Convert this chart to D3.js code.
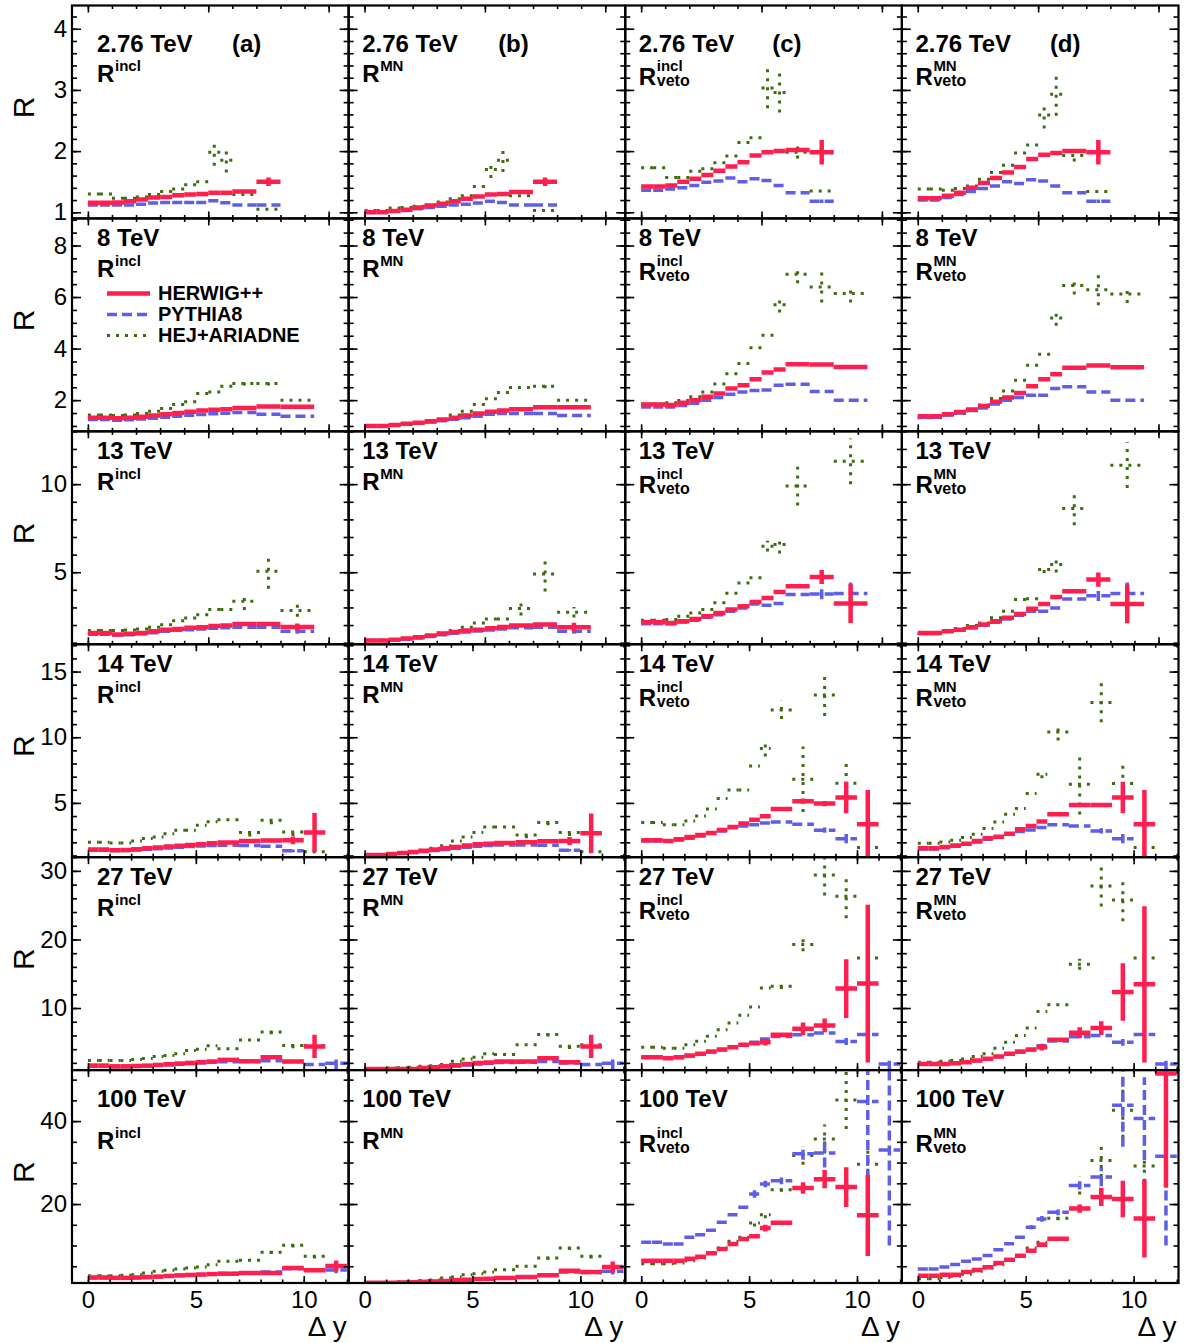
<!DOCTYPE html>
<html>
<head>
<meta charset="utf-8">
<script src="https://cdn.jsdelivr.net/npm/d3@7"></script>
<style>
  body { margin: 0; background: #fff; }
</style>
</head>
<body>
<div id="chart"></div>
<script>
// ---------------- data ----------------
const energyLabels = ["2.76 TeV", "8 TeV", "13 TeV", "14 TeV", "27 TeV", "100 TeV"];
const panelTags = ["(a)", "(b)", "(c)", "(d)"];
const ratioSup = ["incl", "MN", "incl", "MN"];
const ratioVeto = [false, false, true, true];
const seriesNames = ["HERWIG++", "PYTHIA8", "HEJ+ARIADNE"];

// bin edges in delta y
const edges276 = [0, 0.5, 1, 1.5, 2, 2.5, 3, 3.5, 4, 4.5, 5, 5.5, 6, 7, 8];
const edges94 = [0, 0.5, 1, 1.5, 2, 2.5, 3, 3.5, 4, 4.5, 5, 5.5, 6, 7, 8, 9.4];
const edges12 = [0, 0.5, 1, 1.5, 2, 2.5, 3, 3.5, 4, 4.5, 5, 5.5, 6, 7, 8, 9, 10, 11, 12];

// axis setup per row
const xRanges = [[-0.66, 10.83], [-0.66, 10.83], [-0.66, 10.83], [-0.74, 12.08], [-0.74, 12.08], [-0.74, 12.08]];
const xMajorTicks = [0, 5, 10];
const xMinorTicks = [0, 1, 2, 3, 4, 5, 6, 7, 8, 9, 10, 11, 12];
const yRanges = [[0.9, 4.38], [0.79, 9.05], [0.91, 13.0], [0.87, 17.08], [0.95, 32.0], [0.96, 52.3]];
const yMajorTicks = [[1, 2, 3, 4], [2, 4, 6, 8], [5, 10], [5, 10, 15], [10, 20, 30], [20, 40]];
const yMinorSteps = [0.2, 0.5, 1, 1, 2, 5];

// HERWIG++ (panels a, b, c, d)
const herwig276 = [
  [1.155, 1.155, 1.16, 1.18, 1.21, 1.24, 1.25, 1.28, 1.29, 1.30, 1.32, 1.32, 1.34, 1.50],
  [1.0, 1.0, 1.02, 1.04, 1.08, 1.11, 1.14, 1.18, 1.22, 1.26, 1.29, 1.30, 1.33, 1.50],
  [1.42, 1.42, 1.44, 1.50, 1.55, 1.61, 1.68, 1.75, 1.82, 1.93, 1.98, 2.0, 2.02, 1.98],
  [1.23, 1.23, 1.27, 1.32, 1.40, 1.48, 1.56, 1.65, 1.74, 1.87, 1.94, 1.97, 2.0, 1.98]
];
const herwig8 = [
  [1.32, 1.32, 1.30, 1.32, 1.36, 1.40, 1.45, 1.50, 1.55, 1.60, 1.63, 1.65, 1.70, 1.75, 1.74],
  [1.0, 1.0, 1.04, 1.08, 1.12, 1.18, 1.25, 1.32, 1.40, 1.48, 1.55, 1.60, 1.65, 1.72, 1.72],
  [1.83, 1.83, 1.81, 1.90, 2.0, 2.13, 2.26, 2.45, 2.58, 2.81, 3.07, 3.19, 3.39, 3.38, 3.29],
  [1.38, 1.38, 1.45, 1.54, 1.64, 1.77, 1.94, 2.10, 2.28, 2.54, 2.81, 3.0, 3.26, 3.34, 3.28]
];
const herwig13 = [
  [1.55, 1.55, 1.46, 1.50, 1.55, 1.65, 1.74, 1.78, 1.84, 1.87, 1.95, 1.97, 2.06, 2.06, 1.89],
  [1.12, 1.12, 1.17, 1.23, 1.31, 1.40, 1.52, 1.61, 1.69, 1.74, 1.82, 1.89, 1.97, 2.03, 1.88],
  [2.16, 2.16, 2.12, 2.22, 2.35, 2.50, 2.69, 2.88, 3.07, 3.31, 3.54, 3.88, 4.20, 4.73, 3.22],
  [1.55, 1.55, 1.65, 1.74, 1.87, 2.03, 2.22, 2.41, 2.63, 2.92, 3.20, 3.60, 3.92, 4.58, 3.20]
];
const herwig14 = [
  [1.45, 1.45, 1.40, 1.42, 1.47, 1.55, 1.60, 1.68, 1.73, 1.80, 1.85, 1.93, 1.98, 2.10, 2.13, 2.15, 2.74, null],
  [1.04, 1.04, 1.12, 1.19, 1.27, 1.35, 1.45, 1.55, 1.65, 1.75, 1.85, 1.90, 1.95, 2.0, 2.08, 2.10, 2.69, null],
  [2.16, 2.16, 2.11, 2.24, 2.41, 2.56, 2.71, 2.94, 3.17, 3.43, 3.71, 3.98, 4.54, 5.13, 4.95, 5.41, 3.38, null],
  [1.55, 1.55, 1.65, 1.75, 1.90, 2.11, 2.31, 2.43, 2.66, 3.0, 3.25, 3.58, 4.14, 4.85, 4.85, 5.41, 3.38, null]
];
const herwig27 = [
  [1.61, 1.61, 1.5, 1.5, 1.55, 1.6, 1.7, 1.8, 1.9, 2.0, 2.1, 2.2, 2.44, 2.24, 2.83, 2.2, 4.4, null],
  [1.12, 1.12, 1.12, 1.12, 1.12, 1.27, 1.37, 1.51, 1.66, 1.85, 2.0, 2.05, 2.2, 2.2, 2.68, 2.1, 4.4, null],
  [2.83, 2.83, 2.68, 2.83, 3.07, 3.32, 3.66, 3.95, 4.29, 4.63, 4.88, 5.02, 6.1, 6.98, 7.46, 12.83, 13.56, null],
  [1.85, 1.85, 1.85, 1.95, 2.10, 2.34, 2.59, 2.93, 3.32, 3.66, 3.95, 4.29, 5.37, 6.39, 7.07, 12.34, 13.46, null]
];
const herwig100 = [
  [2.3, 2.3, 2.2, 2.2, 2.3, 2.4, 2.5, 2.65, 2.8, 2.9, 3.0, 3.1, 3.2, 3.37, 3.37, 4.58, 4.02, 5.06],
  [1.0, 1.0, 1.05, 1.1, 1.15, 1.25, 1.35, 1.45, 1.6, 1.75, 1.9, 2.0, 2.17, 2.41, 2.81, 3.94, 3.6, 4.82],
  [6.35, 6.35, 6.35, 6.35, 6.83, 7.31, 8.11, 9.16, 10.36, 11.57, 12.21, 14.2, 15.5, 23.86, 26.0, 24.1, 17.27, null],
  [2.73, 2.73, 2.97, 2.97, 3.6, 4.1, 4.74, 5.78, 6.59, 7.55, 8.76, 10.2, 11.65, 18.9, 21.7, 21.2, 16.5, 51.5]
];

// PYTHIA8
const pythia276 = [
  [1.12, 1.12, 1.12, 1.12, 1.13, 1.15, 1.16, 1.16, 1.16, 1.16, 1.19, 1.155, 1.12, 1.12],
  [1.0, 1.0, 1.02, 1.03, 1.06, 1.08, 1.10, 1.12, 1.13, 1.15, 1.18, 1.16, 1.12, 1.12],
  [1.36, 1.36, 1.38, 1.40, 1.44, 1.49, 1.51, 1.56, 1.50, 1.55, 1.52, 1.44, 1.32, 1.18],
  [1.20, 1.20, 1.24, 1.29, 1.34, 1.39, 1.43, 1.50, 1.47, 1.53, 1.51, 1.43, 1.32, 1.18]
];
const pythia8 = [
  [1.25, 1.25, 1.22, 1.24, 1.27, 1.30, 1.34, 1.38, 1.41, 1.44, 1.47, 1.49, 1.52, 1.45, 1.38],
  [1.0, 1.0, 1.03, 1.06, 1.10, 1.15, 1.20, 1.26, 1.32, 1.38, 1.45, 1.48, 1.48, 1.48, 1.40],
  [1.73, 1.73, 1.73, 1.79, 1.88, 2.0, 2.10, 2.23, 2.32, 2.37, 2.39, 2.58, 2.62, 2.34, 2.0],
  [1.34, 1.34, 1.42, 1.50, 1.60, 1.70, 1.85, 2.0, 2.10, 2.19, 2.19, 2.45, 2.52, 2.32, 2.0]
];
const pythia13 = [
  [1.48, 1.48, 1.43, 1.45, 1.50, 1.57, 1.65, 1.70, 1.74, 1.78, 1.82, 1.85, 1.88, 1.88, 1.65],
  [1.12, 1.12, 1.15, 1.20, 1.27, 1.35, 1.45, 1.53, 1.60, 1.66, 1.72, 1.78, 1.85, 1.88, 1.65],
  [2.08, 2.08, 2.08, 2.18, 2.27, 2.44, 2.59, 2.78, 2.97, 3.20, 3.12, 3.22, 3.73, 3.77, 3.79],
  [1.52, 1.52, 1.65, 1.70, 1.84, 1.99, 2.16, 2.35, 2.56, 2.78, 2.78, 2.97, 3.48, 3.67, 3.79]
];
const pythia14 = [
  [1.40, 1.40, 1.37, 1.38, 1.42, 1.47, 1.52, 1.57, 1.62, 1.68, 1.72, 1.76, 1.78, 1.75, 1.70, 1.35, null, null],
  [1.04, 1.04, 1.10, 1.16, 1.23, 1.30, 1.38, 1.46, 1.55, 1.62, 1.70, 1.75, 1.80, 1.80, 1.78, 1.40, null, null],
  [2.11, 2.11, 2.11, 2.18, 2.31, 2.49, 2.69, 2.87, 3.12, 3.25, 3.33, 3.48, 3.55, 3.38, 2.92, 2.28, null, null],
  [1.50, 1.50, 1.60, 1.70, 1.85, 2.03, 2.23, 2.41, 2.61, 2.82, 2.94, 3.12, 3.33, 3.25, 2.87, 2.28, null, null]
];
const pythia27 = [
  [1.5, 1.5, 1.45, 1.45, 1.5, 1.55, 1.65, 1.72, 1.8, 1.9, 2.0, 2.1, 2.15, 2.2, 2.3, 2.2, 1.76, 1.95],
  [1.08, 1.08, 1.08, 1.1, 1.12, 1.2, 1.3, 1.42, 1.55, 1.7, 1.85, 1.95, 2.05, 2.1, 2.2, 2.0, 1.76, 1.95],
  [2.83, 2.83, 2.7, 2.8, 3.0, 3.3, 3.6, 3.9, 4.3, 4.6, 5.0, 5.5, 5.85, 6.1, 6.34, 5.12, 6.15, 1.85],
  [1.85, 1.85, 1.85, 1.95, 2.1, 2.3, 2.55, 2.9, 3.3, 3.6, 3.9, 4.5, 5.2, 5.8, 6.0, 5.0, 6.15, 1.85]
];
const pythia100 = [
  [2.2, 2.2, 2.1, 2.1, 2.2, 2.3, 2.45, 2.6, 2.75, 2.9, 3.0, 3.1, 3.25, 3.4, 3.6, 4.4, 4.1, 4.1],
  [1.0, 1.0, 1.05, 1.1, 1.15, 1.25, 1.35, 1.45, 1.6, 1.75, 1.9, 2.0, 2.2, 2.45, 2.9, 3.6, 3.5, 3.8],
  [10.76, 10.76, 10.36, 10.36, 11.97, 12.6, 13.65, 15.58, 17.43, 19.2, 22.4, 24.82, 25.6, 32.1, 32.3, null, 44.7, 33.0],
  [4.34, 4.34, 4.8, 5.4, 6.2, 6.75, 7.6, 9.0, 10.44, 11.97, 14.4, 16.4, 18.0, 24.5, 26.5, 43.8, 40.6, 31.5]
];

// HEJ+ARIADNE
const hej276 = [
  [1.30, 1.30, 1.23, 1.23, 1.25, 1.29, 1.34, 1.38, 1.45, 1.50, 1.98, 1.85, 1.29, 1.05],
  [1.03, 1.03, 1.07, 1.08, 1.10, 1.12, 1.17, 1.22, 1.27, 1.42, 1.70, 1.85, 1.27, 1.03],
  [1.73, 1.73, 1.57, 1.57, 1.67, 1.71, 1.81, 1.92, 2.14, 2.22, 3.03, 2.96, 1.98, 1.35],
  [1.38, 1.38, 1.36, 1.39, 1.43, 1.54, 1.65, 1.77, 1.97, 2.10, 2.59, 2.93, 1.93, 1.34]
];
const hej8 = [
  [1.42, 1.42, 1.40, 1.42, 1.48, 1.57, 1.68, 1.83, 1.94, 2.26, 2.32, 2.54, 2.65, 2.65, 2.0],
  [1.0, 1.0, 1.03, 1.06, 1.10, 1.15, 1.25, 1.42, 1.57, 1.83, 2.05, 2.30, 2.49, 2.54, 2.0],
  [1.85, 1.85, 1.90, 1.99, 2.13, 2.32, 2.63, 3.02, 3.42, 4.03, 4.52, 5.70, 6.88, 6.39, 6.14],
  [1.32, 1.32, 1.42, 1.48, 1.59, 1.81, 2.06, 2.35, 2.77, 3.35, 3.78, 5.19, 6.45, 6.28, 6.12]
];
const hej13 = [
  [1.69, 1.69, 1.69, 1.72, 1.78, 1.87, 2.02, 2.25, 2.40, 2.59, 2.88, 2.88, 3.35, 5.06, 2.82],
  [1.12, 1.12, 1.17, 1.23, 1.31, 1.40, 1.55, 1.69, 1.87, 2.12, 2.35, 2.35, 2.94, 4.90, 2.73],
  [2.27, 2.27, 2.31, 2.50, 2.69, 2.88, 3.26, 3.81, 4.39, 4.68, 6.48, 6.57, 9.89, null, 11.3],
  [1.52, 1.52, 1.65, 1.80, 1.97, 2.12, 2.41, 2.78, 3.45, 3.50, 5.15, 5.44, 8.62, null, 11.08]
];
const hej14 = [
  [2.0, 2.0, 1.95, 1.95, 2.1, 2.3, 2.4, 2.66, 2.92, 2.92, 3.3, 3.56, 3.71, 2.74, 3.68, 2.79, 1.29, null],
  [1.04, 1.04, 1.12, 1.19, 1.27, 1.40, 1.55, 1.73, 2.10, 2.41, 2.74, 3.17, 3.17, 2.56, 3.50, 2.74, 1.29, null],
  [3.50, 3.50, 3.33, 3.33, 3.63, 4.01, 4.54, 5.33, 5.99, 5.99, 7.82, 9.14, 12.08, 6.8, 13.22, 6.5, 1.6, null],
  [1.93, 1.93, 2.03, 2.16, 2.36, 2.61, 3.05, 3.55, 4.14, 4.57, 5.71, 7.18, 10.4, 6.42, 12.64, 6.47, 1.6, null]
];
const hej27 = [
  [2.34, 2.34, 2.34, 2.34, 2.49, 2.63, 2.93, 3.07, 3.32, 3.8, 4.0, 4.49, 4.05, 5.32, 6.49, 4.54, 4.54, null],
  [1.15, 1.15, 1.25, 1.3, 1.35, 1.5, 1.6, 1.75, 2.24, 2.58, 2.83, 3.32, 3.22, 4.63, 6.15, 4.44, 4.63, null],
  [4.29, 4.29, 4.15, 4.15, 4.63, 5.17, 5.9, 6.83, 7.8, 8.93, 10.15, 12.93, 13.17, 19.27, 29.4, 26.3, 17.3, null],
  [2.1, 2.1, 2.24, 2.34, 2.58, 2.93, 3.32, 4.15, 5.02, 6.0, 7.07, 9.51, 10.49, 16.39, 27.8, 25.76, 17.3, null]
];
const hej100 = [
  [2.73, 2.73, 2.73, 2.8, 2.97, 3.37, 3.78, 4.02, 4.34, 4.58, 4.82, 5.38, 6.18, 6.43, 8.35, 10.04, 7.39, null],
  [1.0, 1.0, 1.1, 1.25, 1.4, 1.55, 1.7, 2.17, 2.41, 2.97, 3.2, 3.6, 4.18, 4.98, 6.99, 9.4, 7.39, null],
  [5.6, 5.6, 5.6, 5.8, 6.35, 7.0, 8.2, 9.4, 11.0, 12.0, 15.4, 17.4, 23.45, 31.7, 35.7, 45.1, 29.6, null],
  [2.0, 2.0, 2.3, 2.57, 3.1, 3.78, 4.58, 5.38, 6.59, 7.39, 9.4, 10.76, 16.6, 24.5, 30.5, 42.6, 29.2, null]
];

// visible error bars: [row, panel, bin, error]
const herwigErrors = [
  [0, 0, 13, 0.07], [0, 1, 13, 0.07], [0, 2, 13, 0.2], [0, 3, 13, 0.2],
  [1, 2, 12, 0.06], [1, 3, 12, 0.06],
  [2, 0, 14, 0.2], [2, 1, 14, 0.25], [2, 2, 12, 0.1], [2, 2, 13, 0.4], [2, 2, 14, 1.1],
  [2, 3, 12, 0.1], [2, 3, 13, 0.4], [2, 3, 14, 1.1],
  [3, 0, 15, 0.3], [3, 0, 16, 1.5], [3, 1, 15, 0.3], [3, 1, 16, 1.5],
  [3, 2, 13, 0.2], [3, 2, 14, 0.2], [3, 2, 15, 1.2], [3, 2, 16, 2.6],
  [3, 3, 14, 0.15], [3, 3, 15, 1.2], [3, 3, 16, 2.6],
  [4, 0, 16, 1.7], [4, 1, 16, 1.7],
  [4, 2, 11, 0.5], [4, 2, 13, 0.9], [4, 2, 14, 1.0], [4, 2, 15, 4.3], [4, 2, 16, 11.5],
  [4, 3, 11, 0.5], [4, 3, 13, 0.8], [4, 3, 14, 1.0], [4, 3, 15, 4.2], [4, 3, 16, 11.4],
  [5, 0, 17, 1.3], [5, 1, 17, 1.3],
  [5, 2, 11, 0.8], [5, 2, 13, 1.4], [5, 2, 14, 2.2], [5, 2, 15, 4.8], [5, 2, 16, 9.8],
  [5, 3, 11, 0.5], [5, 3, 13, 1.0], [5, 3, 14, 2.2], [5, 3, 15, 4.4], [5, 3, 16, 9.4], [5, 3, 17, 27.6]
];
const pythiaErrors = [
  [0, 2, 13, 0.03], [0, 3, 13, 0.03],
  [2, 0, 14, 0.15], [2, 1, 14, 0.15], [2, 2, 13, 0.3], [2, 2, 14, 0.8], [2, 3, 13, 0.3], [2, 3, 14, 0.8],
  [3, 0, 15, 0.1], [3, 1, 15, 0.1], [3, 2, 14, 0.2], [3, 2, 15, 0.35], [3, 3, 14, 0.2], [3, 3, 15, 0.35],
  [4, 0, 17, 0.9], [4, 1, 17, 0.9], [4, 2, 15, 0.5], [4, 2, 17, 1.0], [4, 3, 15, 0.5], [4, 3, 17, 1.0],
  [5, 0, 17, 0.8], [5, 1, 17, 0.8],
  [5, 2, 10, 0.9], [5, 2, 11, 0.8], [5, 2, 12, 0.8], [5, 2, 13, 1.4], [5, 2, 14, 3.5], [5, 2, 16, 37], [5, 2, 17, 23],
  [5, 3, 10, 0.5], [5, 3, 11, 0.7], [5, 3, 12, 0.7], [5, 3, 13, 1.0], [5, 3, 14, 2.2], [5, 3, 15, 10], [5, 3, 16, 10], [5, 3, 17, 21.5]
];
const hejErrors = [
  [0, 0, 10, 0.22], [0, 0, 11, 0.2], [0, 1, 10, 0.14], [0, 1, 11, 0.19],
  [0, 2, 10, 0.33], [0, 2, 11, 0.33], [0, 2, 12, 0.1], [0, 3, 10, 0.22], [0, 3, 11, 0.35], [0, 3, 12, 0.1],
  [1, 0, 12, 0.08], [1, 0, 13, 0.08], [1, 1, 13, 0.08],
  [1, 2, 11, 0.3], [1, 2, 12, 0.35], [1, 2, 13, 0.6], [1, 2, 14, 0.35],
  [1, 3, 11, 0.3], [1, 3, 12, 0.35], [1, 3, 13, 0.6], [1, 3, 14, 0.35],
  [2, 0, 12, 0.5], [2, 0, 13, 1.0], [2, 0, 14, 0.35], [2, 1, 12, 0.4], [2, 1, 13, 1.0], [2, 1, 14, 0.3],
  [2, 2, 10, 0.3], [2, 2, 11, 0.5], [2, 2, 12, 1.1], [2, 2, 14, 1.3],
  [2, 3, 10, 0.2], [2, 3, 11, 0.45], [2, 3, 12, 0.95], [2, 3, 14, 1.3],
  [3, 0, 13, 0.3], [3, 0, 14, 0.3], [3, 0, 15, 0.3], [3, 1, 13, 0.25], [3, 1, 14, 0.2], [3, 1, 15, 0.25],
  [3, 2, 11, 0.6], [3, 2, 12, 0.7], [3, 2, 13, 2.5], [3, 2, 14, 1.6], [3, 2, 15, 1.5],
  [3, 3, 11, 0.3], [3, 3, 12, 0.65], [3, 3, 13, 2.3], [3, 3, 14, 1.5], [3, 3, 15, 1.6],
  [4, 0, 14, 0.3], [4, 0, 15, 0.4], [4, 1, 14, 0.3], [4, 1, 15, 0.4],
  [4, 2, 12, 0.4], [4, 2, 13, 1.0], [4, 2, 14, 3.0], [4, 2, 15, 3.2],
  [4, 3, 13, 0.8], [4, 3, 14, 3.0], [4, 3, 15, 3.1],
  [5, 0, 14, 0.4], [5, 0, 15, 0.5], [5, 0, 16, 0.5], [5, 1, 14, 0.4], [5, 1, 15, 0.5], [5, 1, 16, 0.5],
  [5, 2, 10, 0.8], [5, 2, 11, 0.8], [5, 2, 12, 0.5], [5, 2, 13, 2.2], [5, 2, 14, 3.5], [5, 2, 15, 7], [5, 2, 16, 4],
  [5, 3, 12, 0.5], [5, 3, 13, 2.2], [5, 3, 14, 4], [5, 3, 15, 6.6], [5, 3, 16, 6]
];

// ---------------- layout ----------------
const width = 1195;
const height = 1343;
const grid = { left: 72, top: 5.5, right: 1178.5, bottom: 1283 };
const pw = (grid.right - grid.left) / 4;
const ph = (grid.bottom - grid.top) / 6;
const font = "'Liberation Sans', Arial, Helvetica, sans-serif";

const rowEdges = [edges276, edges94, edges94, edges12, edges12, edges12];

// drawn back to front: green, blue, red
const series = [
  { name: seriesNames[2], rows: [hej276, hej8, hej13, hej14, hej27, hej100], errors: hejErrors,
    color: "#3b6d0c", width: 3, dash: "3,6" },
  { name: seriesNames[1], rows: [pythia276, pythia8, pythia13, pythia14, pythia27, pythia100], errors: pythiaErrors,
    color: "#5e5ee8", width: 3.5, dash: "10,5" },
  { name: seriesNames[0], rows: [herwig276, herwig8, herwig13, herwig14, herwig27, herwig100], errors: herwigErrors,
    color: "#ff1f4f", width: 4.5, dash: null }
];

const svg = d3.select("#chart")
  .append("svg")
  .attr("width", width)
  .attr("height", height)
  .style("font-family", font);

const defs = svg.append("defs");

function minorTicks(range, step) {
  const lo = Math.ceil(range[0] / step - 1e-9);
  const hi = Math.floor(range[1] / step + 1e-9);
  return d3.range(lo, hi + 1).map((k) => +(k * step).toFixed(4));
}

function styleAxis(sel) {
  sel.select(".domain").remove();
  sel.selectAll(".tick line").attr("stroke", "#000").attr("stroke-width", 1.6);
  sel.selectAll("text")
    .attr("fill", "#000")
    .style("font-family", font)
    .style("font-size", "24px");
  sel.attr("font-size", null).attr("font-family", null);
}

// energy label and R label offsets within a row
const energyBase = [46, 28, 28, 28, 28, 37];
const ratioBase = [76.5, 59, 59, 59, 59, 79];
const tagX = [160, 149.5, 147, 148];

for (let r = 0; r < 6; r++) {
  const x = d3.scaleLinear().domain(xRanges[r]).range([0, pw]);
  const y = d3.scaleLinear().domain(yRanges[r]).range([ph, 0]);
  const edges = rowEdges[r];
  const yMinor = minorTicks(yRanges[r], yMinorSteps[r]);

  for (let c = 0; c < 4; c++) {
    const g = svg.append("g")
      .attr("transform", `translate(${grid.left + c * pw},${grid.top + r * ph})`);

    const clipId = `clip-${r}-${c}`;
    defs.append("clipPath").attr("id", clipId)
      .append("rect").attr("width", pw).attr("height", ph);

    const plot = g.append("g").attr("clip-path", `url(#${clipId})`);

    // histograms with error bars
    series.forEach((s) => {
      const errs = new Map(
        s.errors.filter((e) => e[0] === r && e[1] === c).map((e) => [e[2], e[3]])
      );
      const bins = s.rows[r][c]
        .map((v, i) => ({ lo: edges[i], hi: edges[i + 1], v, e: errs.get(i) || 0 }))
        .filter((d) => d.v !== null);

      const sg = plot.append("g")
        .attr("stroke", s.color)
        .attr("stroke-width", s.width)
        .attr("fill", "none")
        .attr("stroke-dasharray", s.dash);

      sg.selectAll(".bin")
        .data(bins)
        .enter()
        .append("line")
        .attr("class", "bin")
        .attr("x1", (d) => x(d.lo))
        .attr("x2", (d) => x(d.hi))
        .attr("y1", (d) => y(d.v))
        .attr("y2", (d) => y(d.v));

      sg.selectAll(".err")
        .data(bins.filter((d) => d.e > 0))
        .enter()
        .append("line")
        .attr("class", "err")
        .attr("x1", (d) => x((d.lo + d.hi) / 2))
        .attr("x2", (d) => x((d.lo + d.hi) / 2))
        .attr("y1", (d) => y(d.v - d.e))
        .attr("y2", (d) => y(d.v + d.e));
    });

    // ticks on all four sides (inward)
    g.append("g").call(d3.axisLeft(y).tickValues(yMinor).tickSize(-5).tickFormat("")).call(styleAxis);
    g.append("g")
      .call(d3.axisLeft(y).tickValues(yMajorTicks[r]).tickSize(-9).tickPadding(5)
        .tickFormat(c === 0 ? d3.format("d") : ""))
      .call(styleAxis);
    g.append("g").attr("transform", `translate(${pw},0)`)
      .call(d3.axisRight(y).tickValues(yMinor).tickSize(-5).tickFormat("")).call(styleAxis);
    g.append("g").attr("transform", `translate(${pw},0)`)
      .call(d3.axisRight(y).tickValues(yMajorTicks[r]).tickSize(-9).tickFormat("")).call(styleAxis);

    const xMinor = xMinorTicks.filter((t) => t <= xRanges[r][1]);
    g.append("g").attr("transform", `translate(0,${ph})`)
      .call(d3.axisBottom(x).tickValues(xMinor).tickSize(-3.5).tickFormat("")).call(styleAxis);
    g.append("g").attr("transform", `translate(0,${ph})`)
      .call(d3.axisBottom(x).tickValues(xMajorTicks).tickSize(-7).tickPadding(8)
        .tickFormat(r === 5 ? d3.format("d") : ""))
      .call(styleAxis);
    g.append("g")
      .call(d3.axisTop(x).tickValues(xMinor).tickSize(-3.5).tickFormat("")).call(styleAxis);
    g.append("g")
      .call(d3.axisTop(x).tickValues(xMajorTicks).tickSize(-7).tickFormat("")).call(styleAxis);

    // frame
    g.append("rect")
      .attr("width", pw)
      .attr("height", ph)
      .attr("fill", "none")
      .attr("stroke", "#000")
      .attr("stroke-width", 2.2);

    // panel labels
    const lx = c === 0 ? 25 : 13.5;
    g.append("text")
      .attr("x", lx)
      .attr("y", energyBase[r])
      .attr("font-size", 24)
      .attr("font-weight", "bold")
      .text(energyLabels[r]);

    if (r === 0) {
      g.append("text")
        .attr("x", tagX[c])
        .attr("y", energyBase[r])
        .attr("font-size", 24)
        .attr("font-weight", "bold")
        .text(panelTags[c]);
    }

    const ry = ratioBase[r] + (ratioVeto[c] ? 2.5 : 0);
    const rl = g.append("g").attr("font-weight", "bold");
    rl.append("text").attr("x", lx).attr("y", ry).attr("font-size", 24).text("R");
    rl.append("text")
      .attr("x", lx + 18)
      .attr("y", ry - (ratioVeto[c] ? 14 : 11))
      .attr("font-size", 15)
      .text(ratioSup[c]);
    if (ratioVeto[c]) {
      rl.append("text").attr("x", lx + 18).attr("y", ry + 1).attr("font-size", 16).text("veto");
    }

    // legend (8 TeV, panel a)
    if (r === 1 && c === 0) {
      const legendRows = [series[2], series[1], series[0]];
      legendRows.forEach((s, i) => {
        const yy = 75 + i * 21;
        g.append("line")
          .attr("x1", 35).attr("x2", 78)
          .attr("y1", yy).attr("y2", yy)
          .attr("stroke", s.color)
          .attr("stroke-width", s.width)
          .attr("stroke-dasharray", s.dash);
        g.append("text")
          .attr("x", 86)
          .attr("y", yy + 7)
          .attr("font-size", 20)
          .attr("font-weight", "bold")
          .text(s.name);
      });
    }

    // x title under last row
    if (r === 5) {
      g.append("text")
        .attr("x", pw - 2)
        .attr("y", ph + 53)
        .attr("text-anchor", "end")
        .attr("font-size", 28)
        .text("\u0394 y");
    }
  }

  // y title for the row
  svg.append("text")
    .attr("transform", `translate(34,${grid.top + r * ph + 102}) rotate(-90)`)
    .attr("text-anchor", "middle")
    .attr("font-size", 30)
    .text("R");
}
</script>
</body>
</html>
